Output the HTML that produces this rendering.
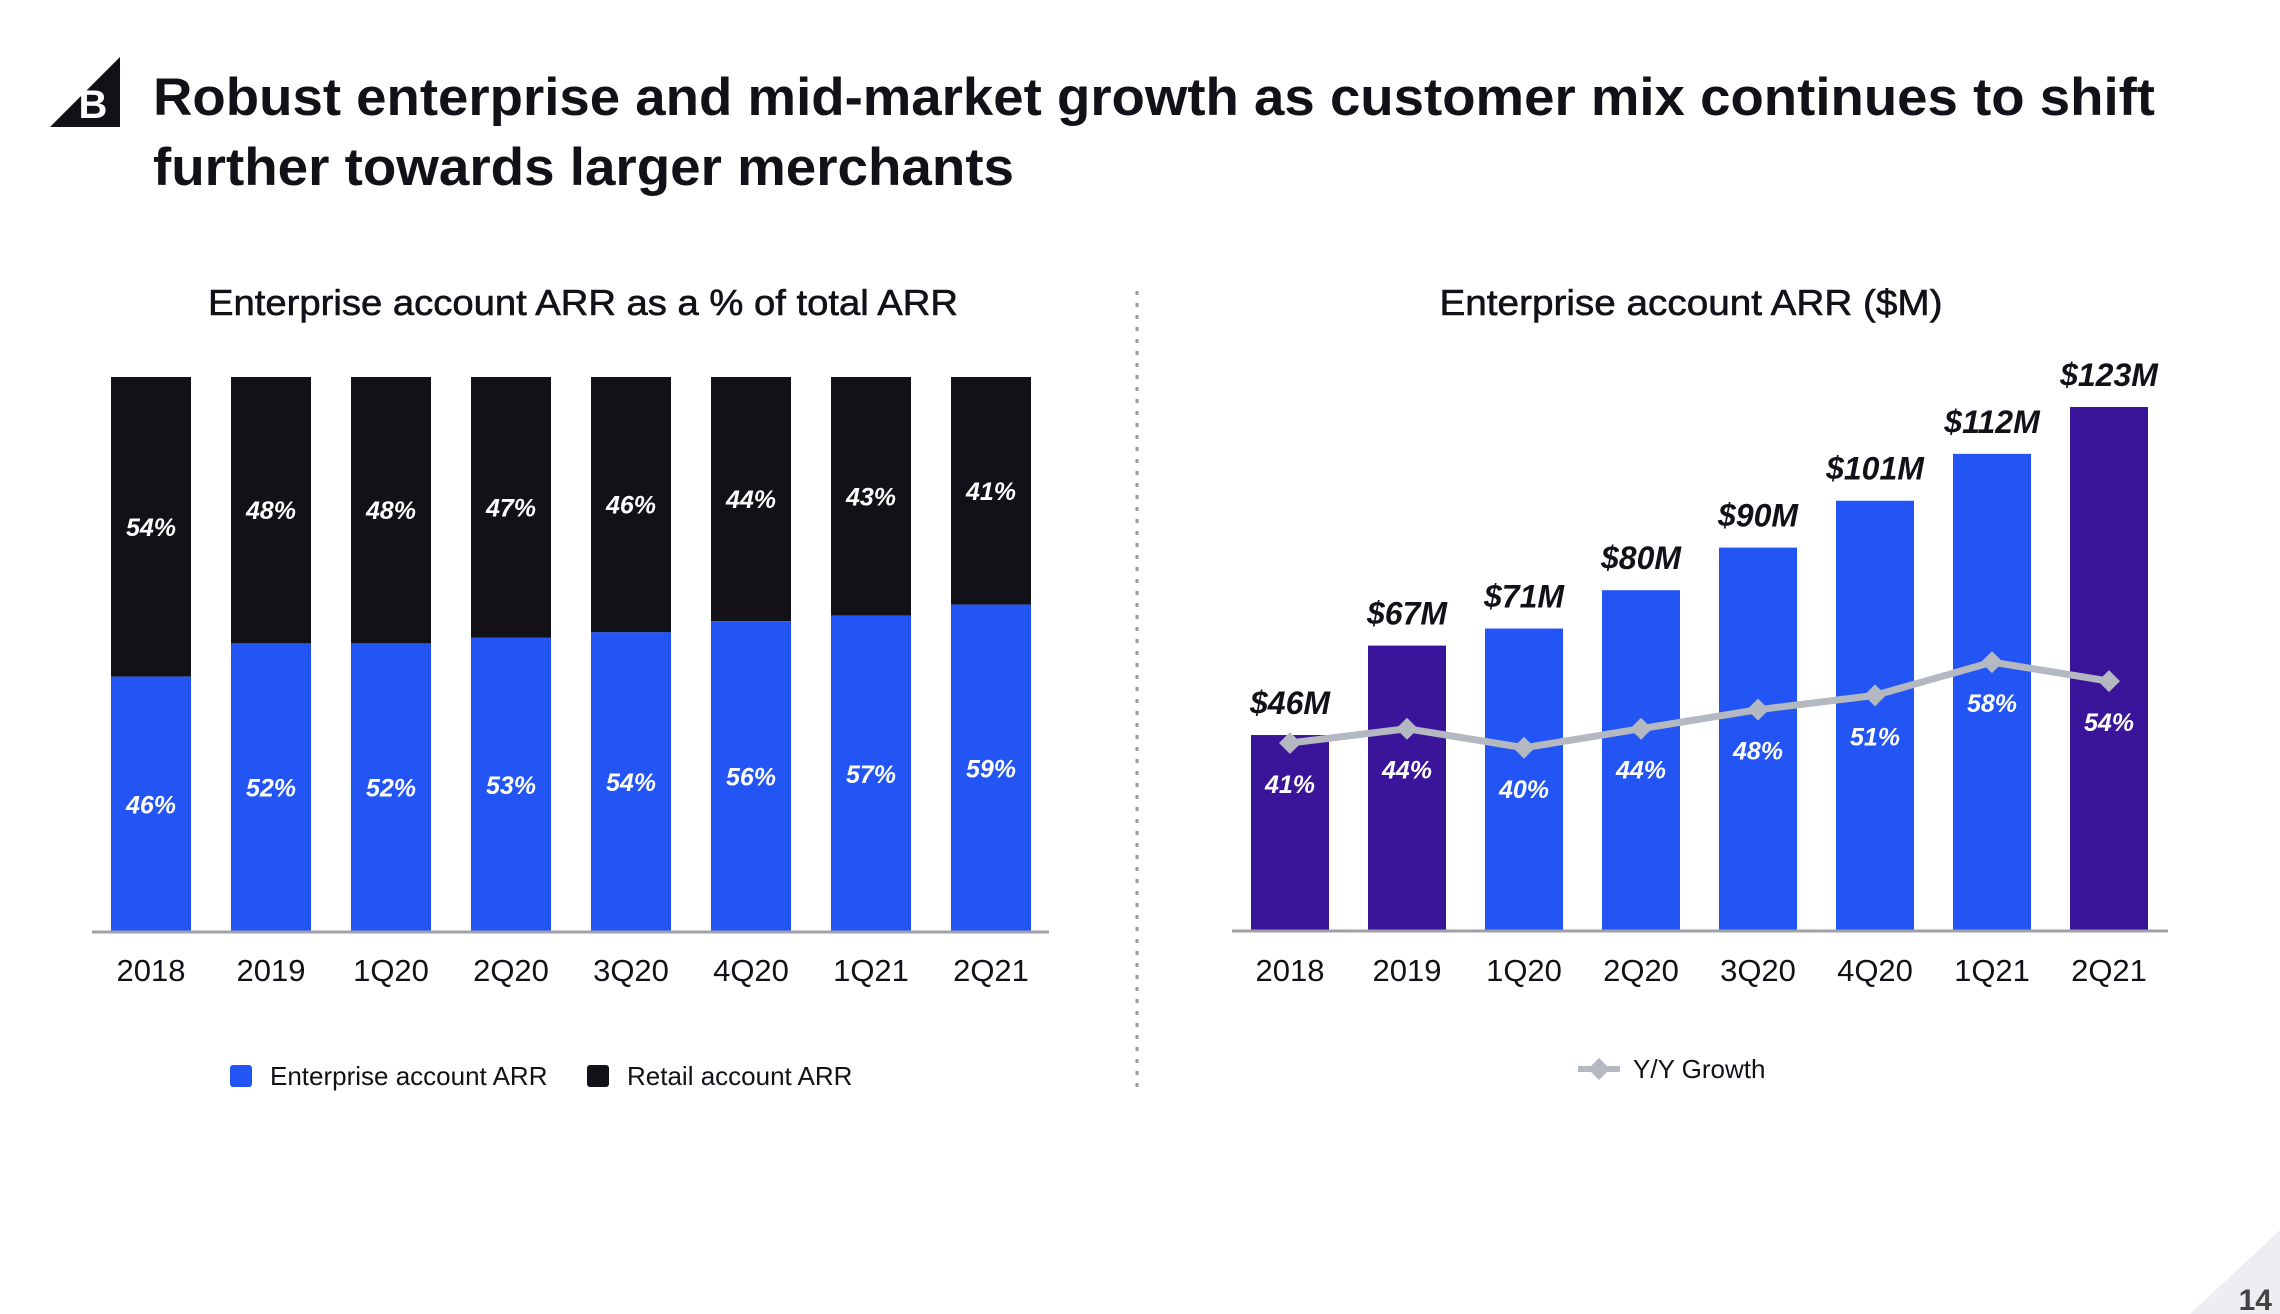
<!DOCTYPE html>
<html><head><meta charset="utf-8">
<style>
html,body{margin:0;padding:0;background:#fff;}
svg{display:block;font-family:"Liberation Sans",Arial,sans-serif;}
</style></head>
<body>
<svg id="page" width="2280" height="1314" viewBox="0 0 2280 1314" xmlns="http://www.w3.org/2000/svg">
  <g>
    <polygon points="50,127 120,57 120,127" fill="#121118"/>
    <text x="93" y="118" font-size="40" font-weight="bold" fill="#fff" text-anchor="middle">B</text>
  </g>
  <text x="153" y="115" font-size="53" font-weight="bold" fill="#121118" textLength="2002" lengthAdjust="spacingAndGlyphs">Robust enterprise and mid-market growth as customer mix continues to shift</text>
  <text x="153" y="185" font-size="53" font-weight="bold" fill="#121118" textLength="861" lengthAdjust="spacingAndGlyphs">further towards larger merchants</text>

  <line x1="1137" y1="291" x2="1137" y2="1088" stroke="#9a9aa2" stroke-width="3" stroke-dasharray="4,8"/>

  <text x="583" y="315" font-size="36" fill="#121118" text-anchor="middle" textLength="750" lengthAdjust="spacingAndGlyphs" stroke="#121118" stroke-width="0.6">Enterprise account ARR as a % of total ARR</text>
  <g id="left"></g>
  <line x1="92" y1="932" x2="1049" y2="932" stroke="#a0a0a8" stroke-width="3"/>
  <g>
    <rect x="230" y="1065" width="22" height="22" rx="3" fill="#2255F4"/>
    <text x="270" y="1085" font-size="26" fill="#121118">Enterprise account ARR</text>
    <rect x="587" y="1065" width="22" height="22" rx="3" fill="#121118"/>
    <text x="627" y="1085" font-size="26" fill="#121118">Retail account ARR</text>
  </g>

  <text x="1691" y="315" font-size="36" fill="#121118" text-anchor="middle" textLength="503" lengthAdjust="spacingAndGlyphs" stroke="#121118" stroke-width="0.6">Enterprise account ARR ($M)</text>
  <g id="right"></g>
  <line x1="1232" y1="931" x2="2168" y2="931" stroke="#a0a0a8" stroke-width="3"/>
  <g>
    <line x1="1578" y1="1069" x2="1620" y2="1069" stroke="#b4b8c0" stroke-width="6"/>
    <polygon points="1599,1058 1610,1069 1599,1080 1588,1069" fill="#b4b8c0"/>
    <text x="1633" y="1078" font-size="26" fill="#121118">Y/Y Growth</text>
  </g>

  <polygon points="2190,1314 2280,1314 2280,1230" fill="#eceef2"/>
  <text x="2272" y="1310" font-size="30" font-weight="bold" fill="#444" text-anchor="end">14</text>
</svg>
<script>
const categories = ["2018","2019","1Q20","2Q20","3Q20","4Q20","1Q21","2Q21"];
const enterprisePct = [46,52,52,53,54,56,57,59];
const retailPct = [54,48,48,47,46,44,43,41];
const arrValues = [46,67,71,80,90,101,112,123];
const arrLabels = ["$46M","$67M","$71M","$80M","$90M","$101M","$112M","$123M"];
const growthValues = [41,44,40,44,48,51,58,54];
const highlight = [true,true,false,false,false,false,false,true];

const NS = "http://www.w3.org/2000/svg";
function mk(tag, attrs, parent, txt){
  const e = document.createElementNS(NS, tag);
  for (const k in attrs) e.setAttribute(k, attrs[k]);
  if (txt !== undefined) e.textContent = txt;
  parent.appendChild(e);
  return e;
}
const lx = i => 111 + i*120;
const lBase = 932, lTop = 377;
const ly = p => lBase - (p/100)*(lBase - lTop);
const L = document.getElementById('left');
categories.forEach((c,i)=>{
  const x = lx(i), w = 80;
  const yb = ly(enterprisePct[i]);
  const top = ly(enterprisePct[i] + retailPct[i]);
  let r = mk('rect',{x:x,y:top,width:w,height:yb-top,fill:'#121118'},L);
  
  
  let b = mk('rect',{x:x,y:yb,width:w,height:lBase-yb,fill:'#2255F4'},L);
  
  
  let t1 = mk('text',{x:x+w/2,y:(top+yb)/2+9,'font-size':25,'font-weight':'bold','font-style':'italic',fill:'#fff','text-anchor':'middle'},L,retailPct[i]+'%');
  
  
  let t2 = mk('text',{x:x+w/2,y:(yb+lBase)/2+9,'font-size':25,'font-weight':'bold','font-style':'italic',fill:'#fff','text-anchor':'middle'},L,enterprisePct[i]+'%');
  
  
  let xl = mk('text',{x:x+w/2,y:981,'font-size':31,fill:'#121118','text-anchor':'middle'},L,c);
  
  
});
const rx = i => 1251 + i*117;
const rBase = 931;
const ry = v => rBase - v*4.26;
const gy = g => 743 - (g-41)*4.76;
const R = document.getElementById('right');
categories.forEach((c,i)=>{
  const x = rx(i), w = 78, y = ry(arrValues[i]);
  let b = mk('rect',{x:x,y:y,width:w,height:rBase-y,fill:highlight[i]?'#3A1499':'#2255F4'},R);
  
  
  let t = mk('text',{x:x+w/2,y:y-21,'font-size':32,'font-weight':'bold','font-style':'italic',fill:'#121118','text-anchor':'middle'},R,arrLabels[i]);
  
  
  let xl = mk('text',{x:x+w/2,y:981,'font-size':31,fill:'#121118','text-anchor':'middle'},R,c);
  
  
});
const pts = categories.map((c,i)=>(rx(i)+39)+','+gy(growthValues[i])).join(' ');
const pl = mk('polyline',{points:pts,fill:'none',stroke:'#b4b8c0','stroke-width':7,'stroke-linejoin':'round'},R);


categories.forEach((c,i)=>{
  const cx = rx(i)+39, cy = gy(growthValues[i]);
  let d = mk('polygon',{points:`${cx},${cy-11} ${cx+11},${cy} ${cx},${cy+11} ${cx-11},${cy}`,fill:'#b4b8c0'},R);
  
  
  let t = mk('text',{x:cx,y:cy+50,'font-size':25,'font-weight':'bold','font-style':'italic',fill:'#fff','text-anchor':'middle'},R,growthValues[i]+'%');
  
  
});
</script>
</body></html>
